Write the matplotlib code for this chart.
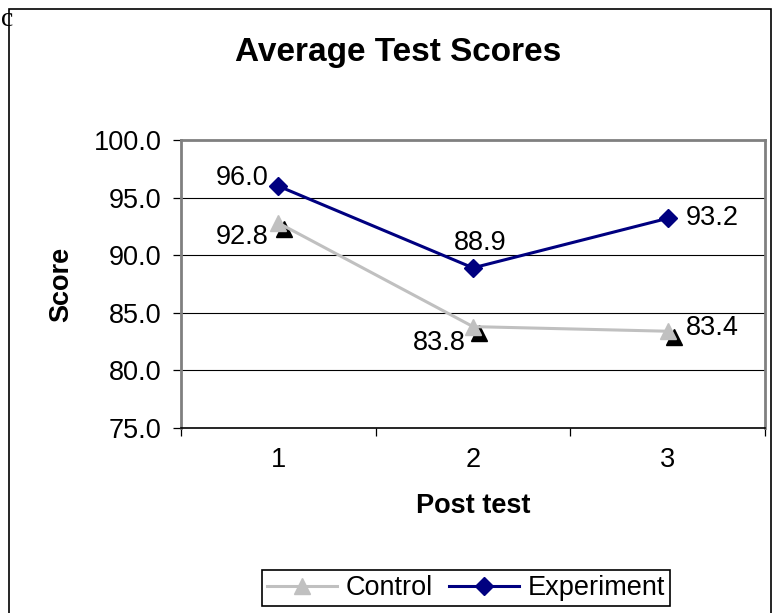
import matplotlib
matplotlib.use("Agg")
import matplotlib.pyplot as plt
import matplotlib.transforms as mtransforms
from matplotlib.patches import Rectangle

plt.rcParams['font.family'] = ['Liberation Sans', 'DejaVu Sans']

# data
tests = [1, 2, 3]
control = [92.8, 83.8, 83.4]
experiment = [96.0, 88.9, 93.2]
yticks = [75.0, 80.0, 85.0, 90.0, 95.0, 100.0]

fig = plt.figure(figsize=(7.73, 6.13), dpi=100)
ax = fig.add_axes([181/773, 1 - 428/613, 584/773, 288/613])

# outer frame around the chart object
fig.patches.append(Rectangle((9/773, -0.01), 762/773, 1 - 9/613 + 0.01,
                             transform=fig.transFigure, fill=False,
                             edgecolor='black', lw=1.2, zorder=5))
fig.text(0.001, 1 - 20/613, 'c', fontsize=20, family='Liberation Serif',
         va='center', ha='left')

# gridlines
for v in yticks[1:-1]:
    ax.axhline(v, color='black', lw=0.8, zorder=1)

# shadow of the control markers
shadow = ax.transData + mtransforms.ScaledTranslation(6/100, -6/100, fig.dpi_scale_trans)
ax.plot(tests, control, linestyle='none', marker='^', markersize=11,
        color='black', transform=shadow, zorder=2)

ax.plot(tests, control, color='#c0c0c0', lw=2.2, marker='^', markersize=11,
        label='Control', zorder=3)
ax.plot(tests, experiment, color='#000080', lw=2.2, marker='D', markersize=9,
        label='Experiment', zorder=4)

fs = 19.5
# data labels
ax.annotate(f'{experiment[0]:.1f}', (tests[0], experiment[0]), xytext=(-7, 6),
            textcoords='offset points', ha='right', va='center', fontsize=fs)
ax.annotate(f'{control[0]:.1f}', (tests[0], control[0]), xytext=(-7, -10),
            textcoords='offset points', ha='right', va='center', fontsize=fs)
ax.annotate(f'{experiment[1]:.1f}', (tests[1], experiment[1]), xytext=(5, 18),
            textcoords='offset points', ha='center', va='center', fontsize=fs)
ax.annotate(f'{control[1]:.1f}', (tests[1], control[1]), xytext=(-5, -12),
            textcoords='offset points', ha='right', va='center', fontsize=fs)
ax.annotate(f'{experiment[2]:.1f}', (tests[2], experiment[2]), xytext=(13, 0),
            textcoords='offset points', ha='left', va='center', fontsize=fs)
ax.annotate(f'{control[2]:.1f}', (tests[2], control[2]), xytext=(13, 2),
            textcoords='offset points', ha='left', va='center', fontsize=fs)

ax.set_xlim(0.5, 3.5)
ax.set_ylim(75, 100)
ax.set_yticks(yticks)
ax.set_yticklabels([f'{v:.1f}' for v in yticks], fontsize=fs)
ax.set_xticks([0.5, 1.5, 2.5, 3.5])
ax.set_xticklabels([])
ax.set_xticks(tests, minor=True)
ax.set_xticklabels([str(t) for t in tests], minor=True, fontsize=fs)
ax.tick_params(axis='x', which='major', direction='out', length=6, width=0.9)
ax.tick_params(axis='x', which='minor', length=0, pad=14)
ax.tick_params(axis='y', direction='out', length=6, width=0.9, pad=8)

for s in ['top', 'left', 'right']:
    ax.spines[s].set_color('#808080')
    ax.spines[s].set_linewidth(2)
ax.spines['bottom'].set_color('black')
ax.spines['bottom'].set_linewidth(1.2)

ax.set_xlabel('Post test', fontsize=fs, fontweight='bold', labelpad=14)
ax.set_ylabel('Score', fontsize=fs, fontweight='bold', labelpad=14)
fig.text(398/773, 1 - 53/613, 'Average Test Scores', fontsize=24,
         fontweight='bold', ha='center', va='center')

leg = fig.legend(loc='center', bbox_to_anchor=(466/773, 1 - 588/613), ncol=2,
                 fontsize=fs, frameon=True, fancybox=False, edgecolor='black',
                 framealpha=1, handlelength=2.6, handletextpad=0.3,
                 columnspacing=0.6, borderpad=0.2, borderaxespad=0)
leg.get_frame().set_linewidth(1.2)

fig.savefig('out.png', dpi=100)
